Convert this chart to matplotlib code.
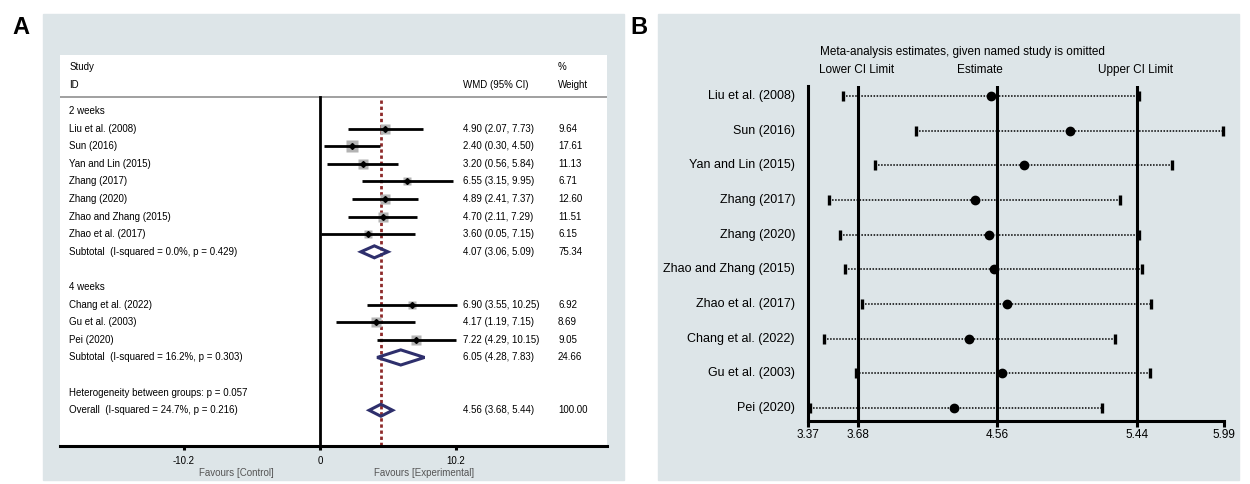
import matplotlib as mpl
mpl.use('Agg')

import matplotlib.pyplot as plt
from matplotlib.patches import Rectangle, Polygon

plt.rcParams['font.family'] = ['Liberation Sans', 'DejaVu Sans']

# ---- panel A data (forest plot) ----
studies_2wk = ["Liu et al. (2008)", "Sun (2016)", "Yan and Lin (2015)", "Zhang (2017)",
               "Zhang (2020)", "Zhao and Zhang (2015)", "Zhao et al. (2017)"]
wmd_2wk = [4.90, 2.40, 3.20, 6.55, 4.89, 4.70, 3.60]
lo_2wk = [2.07, 0.30, 0.56, 3.15, 2.41, 2.11, 0.05]
hi_2wk = [7.73, 4.50, 5.84, 9.95, 7.37, 7.29, 7.15]
wt_2wk = [9.64, 17.61, 11.13, 6.71, 12.60, 11.51, 6.15]

studies_4wk = ["Chang et al. (2022)", "Gu et al. (2003)", "Pei (2020)"]
wmd_4wk = [6.90, 4.17, 7.22]
lo_4wk = [3.55, 1.19, 4.29]
hi_4wk = [10.25, 7.15, 10.15]
wt_4wk = [6.92, 8.69, 9.05]

sub_labels = ["Subtotal  (I-squared = 0.0%, p = 0.429)",
              "Subtotal  (I-squared = 16.2%, p = 0.303)",
              "Overall  (I-squared = 24.7%, p = 0.216)"]
sub_est = [4.07, 6.05, 4.56]
sub_lo = [3.06, 4.28, 3.68]
sub_hi = [5.09, 7.83, 5.44]
sub_wt = [75.34, 24.66, 100.00]
het_text = "Heterogeneity between groups: p = 0.057"
a_ticks = [-10.2, 0, 10.2]

# ---- panel B data (leave-one-out) ----
loo_studies = ["Liu et al. (2008)", "Sun (2016)", "Yan and Lin (2015)", "Zhang (2017)",
               "Zhang (2020)", "Zhao and Zhang (2015)", "Zhao et al. (2017)",
               "Chang et al. (2022)", "Gu et al. (2003)", "Pei (2020)"]
loo_est = [4.52, 5.02, 4.73, 4.42, 4.51, 4.54, 4.62, 4.38, 4.59, 4.29]
loo_lo = [3.59, 4.05, 3.79, 3.50, 3.57, 3.60, 3.71, 3.47, 3.67, 3.38]
loo_hi = [5.45, 5.98, 5.66, 5.33, 5.45, 5.47, 5.53, 5.30, 5.52, 5.22]
b_ticks = [3.37, 3.68, 4.56, 5.44, 5.99]

W, H = 1250, 484
bg = '#dde5e8'
navy = '#2e2f6c'
red = '#8e2a2a'

fig = plt.figure(figsize=(W / 100, H / 100), dpi=100)


def px(x0, y0, x1, y1):
    # pixel box (top-left origin) -> figure fraction [l, b, w, h]
    return [x0 / W, 1 - y1 / H, (x1 - x0) / W, (y1 - y0) / H]


# gray panel backgrounds
for x0, x1 in [(43, 624), (658, 1239)]:
    fig.patches.append(Rectangle((x0 / W, 1 - 480 / H), (x1 - x0) / W, (480 - 14) / H,
                                 transform=fig.transFigure, color=bg, zorder=-10))

fig.text(21 / W, 1 - 27 / H, "A", fontsize=17, fontweight='bold', ha='center', va='center')
fig.text(639 / W, 1 - 27 / H, "B", fontsize=17, fontweight='bold', ha='center', va='center')

# ================= panel A =================
ax = fig.add_axes(px(60, 55, 607, 446))
ax.set_facecolor('white')
ax.set_xlim(-19.48, 21.50)
ax.set_ylim(19.03, -3.18)
for s in ['top', 'left', 'right']:
    ax.spines[s].set_visible(False)
ax.spines['bottom'].set_linewidth(2.2)
ax.set_yticks([])
ax.set_xticks(a_ticks)
ax.set_xticklabels([str(t) for t in a_ticks], fontsize=7)
ax.tick_params(axis='x', length=3, width=2.2, pad=4.5)

xt, xc, xw = -18.8, 10.71, 17.83
fs = 7
ax.text(xt, -2.5, "Study", fontsize=fs, va='center')
ax.text(xt, -1.45, "ID", fontsize=fs, va='center')
ax.text(xc, -1.45, "WMD (95% CI)", fontsize=fs, va='center')
ax.text(xw, -2.5, "%", fontsize=fs, va='center')
ax.text(xw, -1.45, "Weight", fontsize=fs, va='center')
ax.axhline(-0.8, color='#999999', lw=1.3)

top = -0.8
ax.plot([0, 0], [top, 19.03], color='black', lw=2, zorder=3)
ax.plot([4.56, 4.56], [top + 0.2, 19.03], color=red, lw=2, ls=(0, (1.2, 1.0)), zorder=2)


def study_row(r, name, est, lo, hi, wt):
    ax.text(xt, r, name, fontsize=fs, va='center')
    ax.plot([lo, hi], [r, r], color='black', lw=2, zorder=4, solid_capstyle='butt')
    ax.plot(est, r, marker='s', ms=2.2 * wt ** 0.5, color='#b3b3b3', mec='none', zorder=3)
    ax.plot(est, r, marker='D', ms=3, color='black', zorder=5)
    ax.text(xc, r, f"{est:.2f} ({lo:.2f}, {hi:.2f})", fontsize=fs, va='center')
    ax.text(xw, r, f"{wt:.2f}", fontsize=fs, va='center')


def diamond_row(r, name, est, lo, hi, wt, h):
    ax.text(xt, r, name, fontsize=fs, va='center')
    ax.add_patch(Polygon([(lo, r), (est, r - h), (hi, r), (est, r + h)], closed=True,
                         fill=False, ec=navy, lw=2.2, zorder=4))
    ax.text(xc, r, f"{est:.2f} ({lo:.2f}, {hi:.2f})", fontsize=fs, va='center')
    ax.text(xw, r, f"{wt:.2f}", fontsize=fs, va='center')


ax.text(xt, 0, "2 weeks", fontsize=fs, va='center')
for i in range(len(studies_2wk)):
    study_row(1 + i, studies_2wk[i], wmd_2wk[i], lo_2wk[i], hi_2wk[i], wt_2wk[i])
diamond_row(8, sub_labels[0], sub_est[0], sub_lo[0], sub_hi[0], sub_wt[0], 0.34)

ax.text(xt, 10, "4 weeks", fontsize=fs, va='center')
for i in range(len(studies_4wk)):
    study_row(11 + i, studies_4wk[i], wmd_4wk[i], lo_4wk[i], hi_4wk[i], wt_4wk[i])
diamond_row(14, sub_labels[1], sub_est[1], sub_lo[1], sub_hi[1], sub_wt[1], 0.43)

ax.text(xt, 16, het_text, fontsize=fs, va='center')
diamond_row(17, sub_labels[2], sub_est[2], sub_lo[2], sub_hi[2], sub_wt[2], 0.34)

fig.text(236 / W, 1 - 473 / H, "Favours [Control]", fontsize=7, color='#555555',
         ha='center', va='center')
fig.text(424 / W, 1 - 473 / H, "Favours [Experimental]", fontsize=7, color='#555555',
         ha='center', va='center')

# ================= panel B =================
bx = fig.add_axes(px(808.3, 86, 1224.3, 421))
bx.set_facecolor('none')
bx.set_xlim(3.37, 5.99)
bx.set_ylim(9.375, -0.288)
for s in ['top', 'right']:
    bx.spines[s].set_visible(False)
for s in ['left', 'bottom']:
    bx.spines[s].set_linewidth(2.2)
bx.set_yticks([])
bx.set_xticks(b_ticks)
bx.set_xticklabels([f"{t:.2f}" for t in b_ticks], fontsize=8.5)
bx.tick_params(axis='x', length=4, width=2.2, pad=2)
for v in b_ticks[1:4]:
    bx.axvline(v, color='black', lw=2.2, zorder=2)

for i, name in enumerate(loo_studies):
    bx.text(3.286, i, name, fontsize=9, ha='right', va='center', clip_on=False)
    bx.plot([loo_lo[i], loo_hi[i]], [i, i], color='black', lw=1.1, ls=(0, (1, 1)), zorder=3)
    bx.plot([loo_lo[i], loo_hi[i]], [i, i], ls='none', marker='|', ms=7, mew=2.4,
            color='black', zorder=4, clip_on=False)
    bx.plot(loo_est[i], i, marker='o', ms=6, color='black', zorder=5)

bx.text(4.338, -1.27, "Meta-analysis estimates, given named study is omitted",
        fontsize=8.5, ha='center', va='center', clip_on=False)
bx.text(3.677, -0.75, "Lower CI Limit", fontsize=8.5, ha='center', va='center', clip_on=False)
bx.text(4.451, -0.75, "Estimate", fontsize=8.5, ha='center', va='center', clip_on=False)
bx.text(5.43, -0.75, "Upper CI Limit", fontsize=8.5, ha='center', va='center', clip_on=False)

fig.savefig("out.png", dpi=100)
